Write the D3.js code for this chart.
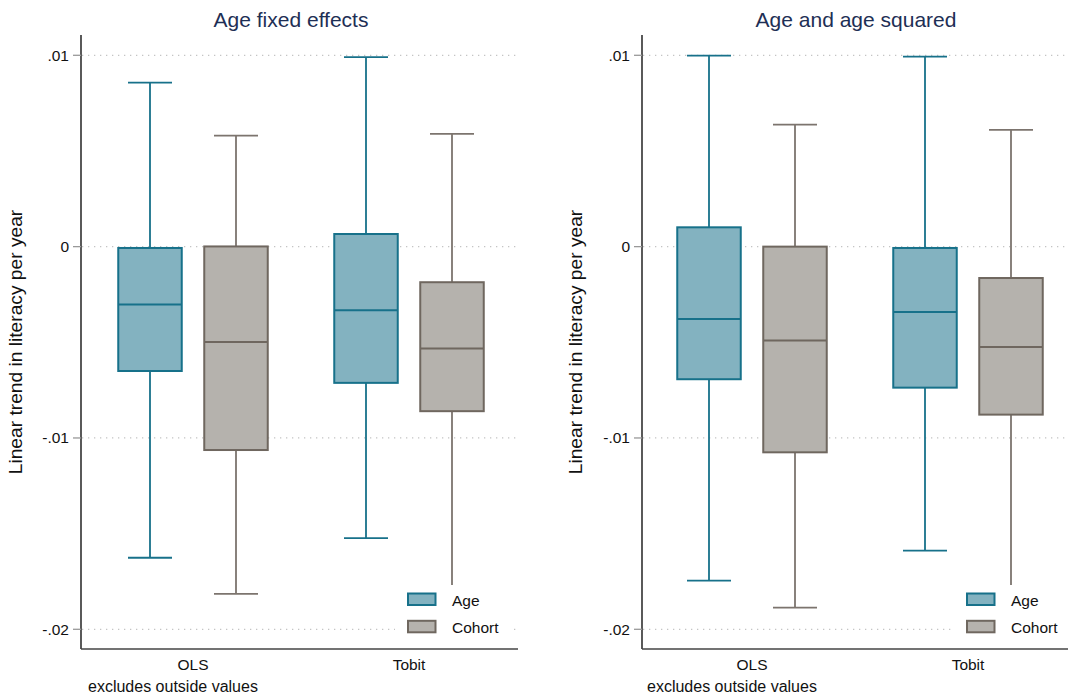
<!DOCTYPE html>
<html>
<head>
<meta charset="utf-8">
<script src="https://cdn.jsdelivr.net/npm/d3@7"></script>
<style>
  html, body { margin: 0; padding: 0; background: #fff; }
  svg { display: block; font-family: "Liberation Sans", Arial, Helvetica, sans-serif; }
</style>
</head>
<body>
<svg id="chart" width="1068" height="698"></svg>
<script>
// Box summaries: [lower whisker, q1, median, q3, upper whisker], one row per estimator
const estimators = ["OLS", "Tobit"];
const seriesNames = ["Age", "Cohort"];
const panelTitles = ["Age fixed effects", "Age and age squared"];

const fixedAge    = [[-0.01626, -0.00650, -0.00303, -0.00007, 0.00857],
                     [-0.01523, -0.00712, -0.00332,  0.00066, 0.00990]];
const fixedCohort = [[-0.01815, -0.01063, -0.00498,  0.00001, 0.00580],
                     [-0.01860, -0.00860, -0.00533, -0.00186, 0.00589]];
const quadAge     = [[-0.01746, -0.00693, -0.00378,  0.00101, 0.00998],
                     [-0.01589, -0.00737, -0.00341, -0.00007, 0.00993]];
const quadCohort  = [[-0.01887, -0.01075, -0.00491,  0.00000, 0.00638],
                     [-0.01860, -0.00878, -0.00524, -0.00164, 0.00610]];

const yTicks = [0.01, 0, -0.01, -0.02];
const yTickLabels = [".01", "0", "-.01", "-.02"];

const yTitle = "Linear trend in literacy per year";
const noteText = "excludes outside values";

const panelData = [
  [fixedAge, fixedCohort],
  [quadAge, quadCohort]
];

// Styling
const fills   = { Age: "#83b2c0", Cohort: "#b5b2ad" };
const strokes = { Age: "#17718a", Cohort: "#6f675f" };
const whiskerStrokes = { Age: "#17718a", Cohort: "#7c746e" };
const titleColor = "#1e2f55";

// Layout of each panel
const panels = [
  { axisX: 81,  range: [85, 517],  right: 518,  titleX: 291, yTitleX: 22,  noteX: 88,  legendX: 395 },
  { axisX: 642, range: [644, 1076], right: 1068, titleX: 856, yTitleX: 582, noteX: 647, legendX: 954 }
];
const plotTop = 35, plotBottom = 649;

const svg = d3.select("#chart");
const y = d3.scaleLinear().domain([-0.02, 0.01]).range([629.3, 55.3]);
const inner = d3.scalePoint().domain(seriesNames).range([-43, 43]);
const boxW = 63.5, capW = 44;

panels.forEach((p, pi) => {
  const g = svg.append("g");
  const x = d3.scalePoint().domain(estimators).range(p.range).padding(0.5);

  // Horizontal dotted grid
  g.append("g").selectAll("line").data(yTicks).join("line")
    .attr("x1", p.axisX + 1).attr("x2", p.right)
    .attr("y1", d => y(d)).attr("y2", d => y(d))
    .attr("stroke", "#c4c4c4").attr("stroke-width", 1.2)
    .attr("stroke-dasharray", "1.3,4.7");

  // Boxes
  seriesNames.forEach((s, si) => {
    const rows = panelData[pi][si];
    estimators.forEach((e, ei) => {
      const [lo, q1, med, q3, hi] = rows[ei];
      const cx = x(e) + inner(s);
      const bg = g.append("g");
      // whiskers
      bg.append("line").attr("x1", cx).attr("x2", cx).attr("y1", y(hi)).attr("y2", y(q3))
        .attr("stroke", whiskerStrokes[s]).attr("stroke-width", 1.8);
      bg.append("line").attr("x1", cx).attr("x2", cx).attr("y1", y(q1)).attr("y2", y(lo))
        .attr("stroke", whiskerStrokes[s]).attr("stroke-width", 1.8);
      // caps
      [lo, hi].forEach(v => {
        bg.append("line").attr("x1", cx - capW / 2).attr("x2", cx + capW / 2)
          .attr("y1", y(v)).attr("y2", y(v))
          .attr("stroke", whiskerStrokes[s]).attr("stroke-width", 1.8);
      });
      // box
      bg.append("rect")
        .attr("x", cx - boxW / 2).attr("width", boxW)
        .attr("y", y(q3)).attr("height", y(q1) - y(q3))
        .attr("fill", fills[s]).attr("stroke", strokes[s]).attr("stroke-width", 2);
      // median
      bg.append("line").attr("x1", cx - boxW / 2).attr("x2", cx + boxW / 2)
        .attr("y1", y(med)).attr("y2", y(med))
        .attr("stroke", strokes[s]).attr("stroke-width", 2);
    });
  });

  // Legend (white backing over the plot)
  const lx = p.legendX;
  const legend = g.append("g");
  legend.append("rect").attr("x", lx).attr("y", 585).attr("width", 115).attr("height", 56)
    .attr("fill", "#fff");
  seriesNames.forEach((s, si) => {
    const ky = 593.5 + si * 27.3;
    legend.append("rect").attr("x", lx + 13).attr("y", ky).attr("width", 27.5).attr("height", 11.5)
      .attr("fill", fills[s]).attr("stroke", strokes[s]).attr("stroke-width", 2);
    legend.append("text").attr("x", lx + 57).attr("y", ky + 12.5)
      .attr("font-size", 15.5).attr("fill", "#111").text(s);
  });

  // Y axis
  g.append("line").attr("x1", p.axisX).attr("x2", p.axisX)
    .attr("y1", plotTop).attr("y2", plotBottom)
    .attr("stroke", "#000").attr("stroke-width", 1.3);
  g.append("g").selectAll("line").data(yTicks).join("line")
    .attr("x1", p.axisX - 8).attr("x2", p.axisX)
    .attr("y1", d => y(d)).attr("y2", d => y(d))
    .attr("stroke", "#999").attr("stroke-width", 1.3);
  g.append("g").selectAll("text").data(yTicks).join("text")
    .attr("x", p.axisX - 12).attr("y", d => y(d)).attr("dy", "0.35em")
    .attr("text-anchor", "end").attr("font-size", 15.5).attr("fill", "#111")
    .text((d, i) => yTickLabels[i]);

  // X axis
  g.append("line").attr("x1", p.axisX).attr("x2", p.right)
    .attr("y1", plotBottom).attr("y2", plotBottom)
    .attr("stroke", "#444").attr("stroke-width", 1.3);
  g.append("g").selectAll("text").data(estimators).join("text")
    .attr("x", d => x(d)).attr("y", 670)
    .attr("text-anchor", "middle").attr("font-size", 15.5).attr("fill", "#111")
    .text(d => d);

  // Note
  g.append("text").attr("x", p.noteX).attr("y", 692)
    .attr("font-size", 16).attr("fill", "#111").text(noteText);

  // Titles
  g.append("text").attr("x", p.titleX).attr("y", 27)
    .attr("text-anchor", "middle").attr("font-size", 21).attr("fill", titleColor)
    .text(panelTitles[pi]);
  g.append("text")
    .attr("transform", `translate(${p.yTitleX},${(plotTop + plotBottom) / 2}) rotate(-90)`)
    .attr("text-anchor", "middle").attr("font-size", 19.2).attr("fill", "#111")
    .text(yTitle);
});
</script>
</body>
</html>
